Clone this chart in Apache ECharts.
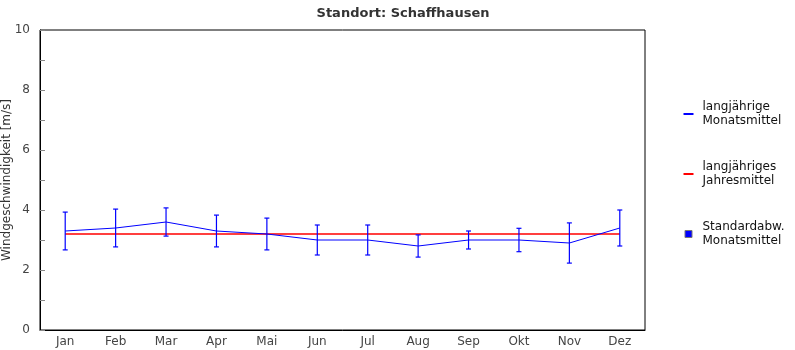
<!DOCTYPE html>
<html><head><meta charset="utf-8">
<script src="https://cdn.jsdelivr.net/npm/echarts@6/dist/echarts.min.js"></script>
<style>html,body{margin:0;padding:0;background:#fff}#c{width:795px;height:350px}</style>
</head><body><div id="c"></div>
<script>
const months = ['Jan','Feb','Mar','Apr','Mai','Jun','Jul','Aug','Sep','Okt','Nov','Dez'];
const monthlyMean = [3.3,3.4,3.6,3.3,3.2,3.0,3.0,2.8,3.0,3.0,2.9,3.4];
const monthlyStd = [0.63,0.63,0.47,0.53,0.53,0.5,0.5,0.37,0.3,0.39,0.67,0.6];
const annualMean = 3.2;
const annualLine = months.map(() => annualMean);
const errData = months.map((m,i) => [i, monthlyMean[i]-monthlyStd[i], monthlyMean[i]+monthlyStd[i]]);

const FONT = 'DejaVu Sans';
const chart = echarts.init(document.getElementById('c'), null, {renderer:'canvas'});
chart.setOption({
  animation:false,
  textStyle:{fontFamily:FONT},
  title:{text:'Standort: Schaffhausen', left:398, textAlign:'center', top:2,
    textStyle:{fontFamily:FONT, fontSize:13, fontWeight:'bold', color:'#333'}},
  grid:{left:40, right:150, top:30, bottom:20, containLabel:false, outerBoundsMode:'none',
    show:true, borderColor:'#000', borderWidth:1, backgroundColor:'transparent'},
  legend:{orient:'vertical', left:683, top:100, padding:0, itemWidth:10, itemHeight:10, itemGap:32,
    textStyle:{fontFamily:FONT, fontSize:12, color:'#111', lineHeight:14, padding:[0,0,0,4]},
    data:[
      {name:'langjährige\nMonatsmittel', icon:'path://M0,0 M10,10 M0,4 L10,4 L10,6 L0,6 Z', itemStyle:{color:'#0000ff'}},
      {name:'langjähriges\nJahresmittel', icon:'path://M0,0 M10,10 M0,4 L10,4 L10,6 L0,6 Z', itemStyle:{color:'#ff0000'}},
      {name:'Standardabw.\nMonatsmittel', icon:'path://M0,0 M10,10 M1.5,1.5 L8.5,1.5 L8.5,8.5 L1.5,8.5 Z', itemStyle:{color:'#0000ff', borderColor:'#777', borderWidth:1}}
    ]},
  xAxis:{type:'category', data:months, boundaryGap:true,
    axisLine:{lineStyle:{color:'#000'}},
    axisTick:{inside:true, alignWithLabel:true, length:5, lineStyle:{color:'#888'}},
    axisLabel:{color:'#444', fontSize:12, margin:6, fontFamily:FONT}},
  yAxis:{type:'value', min:0, max:10, interval:1,
    name:'Windgeschwindigkeit [m/s]', nameLocation:'middle', nameGap:27, nameMoveOverlap:false,
    nameTextStyle:{fontFamily:FONT, fontSize:12, color:'#333'},
    axisLine:{show:true, lineStyle:{color:'#000'}},
    axisTick:{show:true, inside:true, length:5, lineStyle:{color:'#888'}},
    splitLine:{show:false},
    axisLabel:{color:'#444', fontSize:12, margin:10, fontFamily:FONT,
      formatter:v => (v % 2 === 0 ? String(v) : '')}},
  series:[
    {name:'langjährige\nMonatsmittel', type:'line', data:monthlyMean, symbol:'none',
      lineStyle:{color:'#0000ff', width:1}, itemStyle:{color:'#0000ff'}, z:3},
    {name:'langjähriges\nJahresmittel', type:'line', data:annualLine, symbol:'none',
      lineStyle:{color:'#ff0000', width:1.3}, itemStyle:{color:'#ff0000'}, z:2},
    {name:'Standardabw.\nMonatsmittel', type:'custom', data:errData, z:4,
      itemStyle:{color:'#0000ff'},
      encode:{x:0, y:[1,2]},
      renderItem:(params, api) => {
        const i = api.value(0);
        const lo = api.coord([i, api.value(1)]);
        const hi = api.coord([i, api.value(2)]);
        const w = 2.5;
        const st = {stroke:'#0000ff', lineWidth:1.2, fill:null};
        return {type:'group', children:[
          {type:'line', shape:{x1:lo[0], y1:lo[1], x2:hi[0], y2:hi[1]}, style:st},
          {type:'line', shape:{x1:lo[0]-w, y1:lo[1], x2:lo[0]+w, y2:lo[1]}, style:st},
          {type:'line', shape:{x1:hi[0]-w, y1:hi[1], x2:hi[0]+w, y2:hi[1]}, style:st}
        ]};
      }}
  ]
});
</script></body></html>
